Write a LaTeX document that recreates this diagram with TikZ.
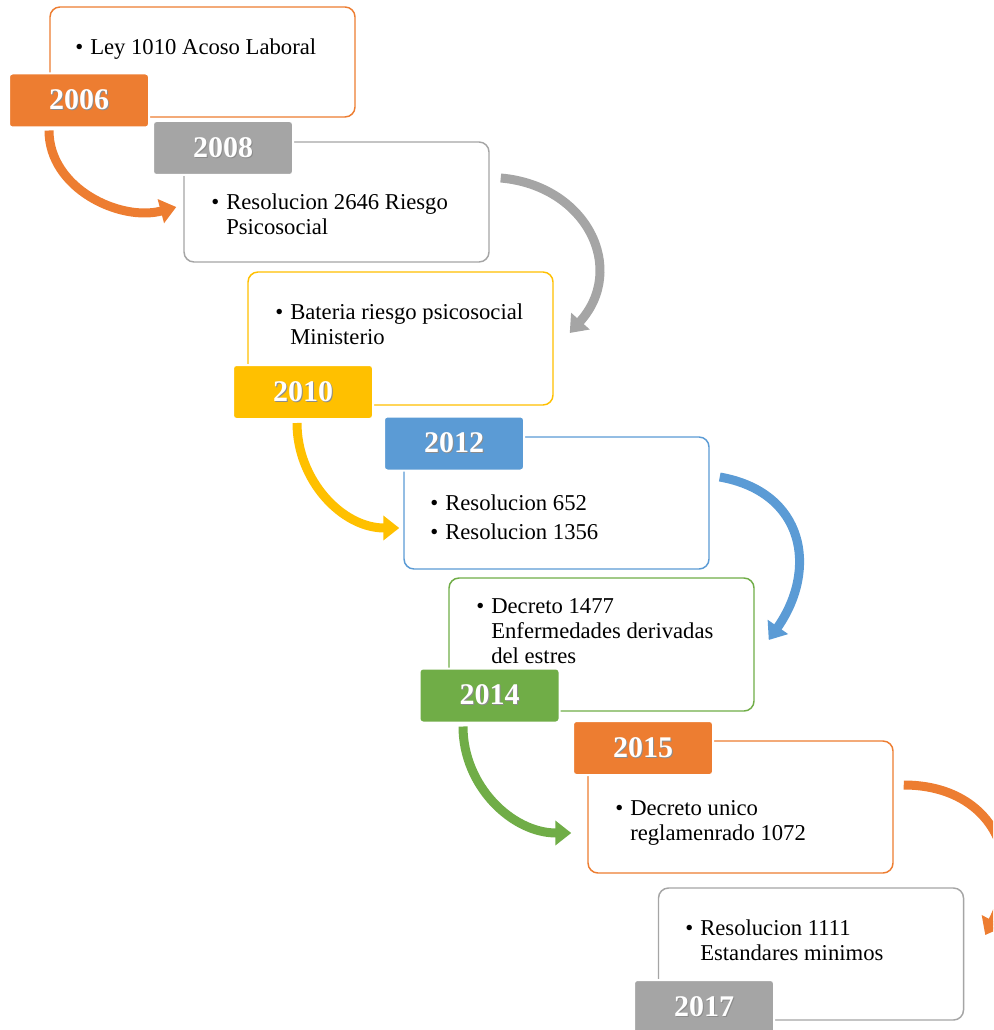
\documentclass[tikz,border=0pt]{standalone}
\usepackage{fontspec}
\setmainfont{Liberation Serif}
\usepackage{xcolor}
\usepackage{tikz}
\usetikzlibrary{arrows.meta,calc}
\definecolor{naranja}{HTML}{ED7D31}
\definecolor{gris}{HTML}{A5A5A5}
\definecolor{amarillo}{HTML}{FFC000}
\definecolor{azul}{HTML}{5B9BD5}
\definecolor{verde}{HTML}{70AD47}
\newcommand{\bul}{\makebox[11.25pt][l]{\textbullet}}
\newcommand{\ind}{\hspace*{11.25pt}}
\newcommand{\sombra}[1]{\makebox[0pt][l]{\hspace{0.9pt}\raisebox{-0.9pt}{\textcolor{black!45}{#1}}}#1}

\begin{document}
\begin{tikzpicture}[x=0.75pt,y=0.75pt,
	caja/.style={fill=white,rounded corners=7.5pt,line width=1.1pt,minimum width=228.75pt,inner sep=0pt},
	etiqueta/.style={draw=white,line width=1.5pt,rounded corners=2.5pt,minimum width=105pt,minimum height=40.5pt,inner sep=0pt,text=white,font=\fontsize{22.5pt}{24pt}\selectfont\bfseries},
	texto/.style={anchor=base west,inner sep=0pt,font=\fontsize{17pt}{18.75pt}\selectfont},
	flecha/.style={line width=6.75pt,-{Triangle[length=12pt,width=18pt]}}]
		\useasboundingbox (0,0) rectangle (993,-1030);
		\clip (0,0) rectangle (993,-1030);
		\node[caja,draw=naranja,minimum height=82.5pt] (t2006) at (202.5,-62) {};
		\node[etiqueta,fill=naranja] (y2006) at (79,-100.5) {\sombra{2006}};
		\node[texto] (i2006) at (75,-55) {\bul Ley 1010 Acoso Laboral};
		\node[caja,draw=gris,minimum height=90pt] (t2008) at (336.5,-202) {};
		\node[etiqueta,fill=gris] (y2008) at (223,-148) {\sombra{2008}};
		\node[texto] (i2008) at (211,-210) {\begin{tabular}[t]{@{}l@{}}\bul Resolucion 2646 Riesgo\\\ind Psicosocial\end{tabular}};
		\node[caja,draw=amarillo,minimum height=99.75pt] (t2010) at (400.5,-338.5) {};
		\node[etiqueta,fill=amarillo] (y2010) at (303,-392) {\sombra{2010}};
		\node[texto] (i2010) at (275,-319) {\begin{tabular}[t]{@{}l@{}}\bul Bateria riesgo psicosocial\\\ind Ministerio\end{tabular}};
		\node[caja,draw=azul,minimum height=99pt] (t2012) at (556.5,-503) {};
		\node[etiqueta,fill=azul] (y2012) at (454,-443.5) {\sombra{2012}};
		\node[texto] (i2012) at (430,-510) {\begin{tabular}[t]{@{}l@{}}\bul Resolucion 652\\[3pt]\bul Resolucion 1356\end{tabular}};
		\node[caja,draw=verde,minimum height=99.75pt] (t2014) at (601.5,-644.5) {};
		\node[etiqueta,fill=verde] (y2014) at (489.5,-695.5) {\sombra{2014}};
		\node[texto] (i2014) at (476,-613) {\begin{tabular}[t]{@{}l@{}}\bul Decreto 1477\\\ind Enfermedades derivadas\\\ind del estres\end{tabular}};
		\node[caja,draw=naranja,minimum height=99pt] (t2015) at (740.5,-807) {};
		\node[etiqueta,fill=naranja] (y2015) at (643,-748) {\sombra{2015}};
		\node[texto] (i2015) at (615,-815) {\begin{tabular}[t]{@{}l@{}}\bul Decreto unico\\\ind reglamenrado 1072\end{tabular}};
		\node[caja,draw=gris,minimum height=99pt] (t2017) at (811,-954) {};
		\node[etiqueta,fill=gris] (y2017) at (704,-1007) {\sombra{2017}};
		\node[texto] (i2017) at (685,-935) {\begin{tabular}[t]{@{}l@{}}\bul Resolucion 1111\\\ind Estandares minimos\end{tabular}};
		\draw[flecha,naranja] ([shift={(-30,-2)}]y2006.south) to[out=-90,in=195] ([shift={(-7,-5)}]t2008.west);
		\draw[flecha,gris] ([shift={(11,24)}]t2008.east) to[out=-5,in=48,looseness=1.3] ([shift={(16,5.5)}]t2010.east);
		\draw[flecha,amarillo] ([shift={(-6,-3)}]y2010.south) to[out=-90,in=180] ([shift={(-4,-25)}]t2012.west);
		\draw[flecha,azul] ([shift={(10,26)}]t2012.east) to[out=-10,in=55,looseness=1.3] ([shift={(14,4.5)}]t2014.east);
		\draw[flecha,verde] ([shift={(-26.5,-3)}]y2014.south) to[out=-90,in=180] ([shift={(-16,-26)}]t2015.west);
		\draw[flecha,naranja] ([shift={(10,22)}]t2015.east) to[out=0,in=62,looseness=1.3] ([shift={(21,19)}]t2017.east);
	\end{tikzpicture}
\end{document}
